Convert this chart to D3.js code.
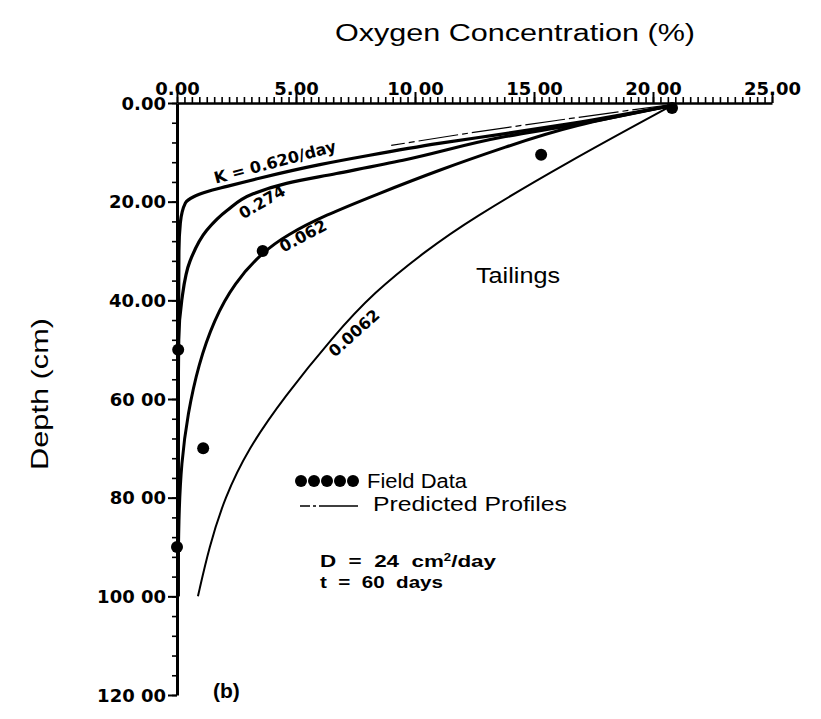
<!DOCTYPE html>
<html>
<head>
<meta charset="utf-8">
<script src="https://cdn.jsdelivr.net/npm/d3@7"></script>
<style>
  body { margin: 0; background: #fff; }
  text { font-family: "Liberation Sans", Arial, sans-serif; fill: #000; }
  .tick-label { font-family: "DejaVu Sans", sans-serif; font-weight: bold; font-size: 18px; }
  .pre { white-space: pre; }
</style>
</head>
<body>
<svg width="821" height="719"></svg>
<script>
// axis ticks
const X_TICKS = [0, 5, 10, 15, 20, 25];
const X_TICK_LABELS = ["0.00", "5.00", "10 00", "15 00", "20 00", "25.00"];
const Y_TICKS = [0, 20, 40, 60, 80, 100, 120];
const Y_TICK_LABELS = ["0.00", "20.00", "40.00", "60 00", "80 00", "100 00", "120 00"];

// field data (oxygen %, depth cm)
const FIELD_O2 = [20.8, 15.3, 3.6, 0.05, 1.1, 0.0];
const FIELD_DEPTH = [1, 10.5, 30, 50, 70, 90];

// predicted profiles, [oxygen %, depth cm]
const K_0620 = [[20.8, 0.5], [16.6, 4.1], [13.8, 6.2], [11.0, 8.2], [8.1, 10.6], [6.0, 12.5],
                [3.5, 15.2], [2.1, 16.9], [1.25, 18.0], [0.7, 19.0], [0.35, 20.3], [0.14, 24.3],
                [0.08, 30], [0.06, 50], [0.05, 100]];
const K_0274 = [[20.8, 0.5], [16.6, 4.5], [13.8, 6.8], [9.5, 11.6], [6.7, 14.3], [4.6, 16.3],
                [3.2, 18.4], [2.1, 21.8], [1.25, 25.8], [0.55, 32], [0.2, 40], [0.07, 48],
                [0.05, 60], [0.04, 100]];
const K_0062 = [[20.8, 0.5], [16.6, 4.5], [13.8, 8.9], [11.0, 13.6], [8.4, 18.5], [6.2, 22.8],
                [4.6, 26.8], [3.6, 30.2], [2.4, 36.5], [1.55, 44], [0.9, 53], [0.45, 63],
                [0.18, 73], [0.07, 84], [0.04, 100]];
const K_00062 = [[20.8, 0.5], [16.4, 12], [12.3, 23.7], [10.5, 29.8], [8.24, 38.5], [6.55, 47.4],
                 [4.5, 59.6], [3.0, 70], [2.0, 80], [1.35, 90], [0.88, 100]];
const THIN_TRACE = [[20.8, 0.3], [16.0, 3.5], [12.0, 6.3], [9.0, 8.6]];

const CURVE_LABELS = ["K = 0.620/day", "0.274", "0.062", "0.0062"];

let svg = d3.select("svg");

let x = d3.scaleLinear().domain([0, 25]).range([177, 772]);
let y = d3.scaleLinear().domain([0, 120]).range([103, 695]);

// x axis along the top
let xMinor = d3.range(0, 25.0001, 5 / 16);
svg.append("g")
  .attr("transform", "translate(0," + y(0) + ")")
  .call(d3.axisTop(x).tickValues(xMinor).tickSize(6).tickFormat(""))
  .call(g => g.select(".domain").remove())
  .selectAll("line").attr("stroke-width", 1.6);

let xAxis = svg.append("g")
  .attr("transform", "translate(0," + y(0) + ")")
  .call(d3.axisTop(x).tickValues(X_TICKS).tickSize(11).tickSizeOuter(0)
          .tickFormat((d, i) => X_TICK_LABELS[i]));
xAxis.select(".domain").attr("stroke-width", 2.5);
xAxis.selectAll("line").attr("stroke-width", 2);
xAxis.selectAll("text")
  .attr("class", "tick-label")
  .attr("y", -8)
  .attr("dy", 0);

// y axis on the left
let yMinor = d3.range(0, 120.0001, 4);
svg.append("g")
  .attr("transform", "translate(" + x(0) + ",0)")
  .call(d3.axisLeft(y).tickValues(yMinor).tickSize(5).tickFormat(""))
  .call(g => g.select(".domain").remove())
  .selectAll("line").attr("stroke-width", 1.6);

let yAxis = svg.append("g")
  .attr("transform", "translate(" + x(0) + ",0)")
  .call(d3.axisLeft(y).tickValues(Y_TICKS).tickSize(9).tickSizeOuter(0)
          .tickFormat((d, i) => Y_TICK_LABELS[i]));
yAxis.select(".domain").attr("stroke-width", 3);
yAxis.selectAll("line").attr("stroke-width", 2);
yAxis.selectAll("text")
  .attr("class", "tick-label")
  .attr("x", -11)
  .attr("dy", "0.35em");

// profiles
let sharpLine = d3.line()
  .x(d => x(d[0]))
  .y(d => y(d[1]))
  .curve(d3.curveMonotoneY);
let softLine = d3.line()
  .x(d => x(d[0]))
  .y(d => y(d[1]))
  .curve(d3.curveBasis);

let profiles = [
  {data: K_0620, w: 3.2, gen: sharpLine},
  {data: K_0274, w: 3.2, gen: sharpLine},
  {data: K_0062, w: 3, gen: softLine},
  {data: K_00062, w: 2, gen: softLine}
];
svg.append("g").selectAll("path")
  .data(profiles)
  .enter()
  .append("path")
  .attr("d", d => d.gen(d.data))
  .attr("fill", "none")
  .attr("stroke", "#000")
  .attr("stroke-width", d => d.w)
  .attr("stroke-linejoin", "round");

svg.append("path")
  .attr("d", sharpLine(THIN_TRACE))
  .attr("fill", "none")
  .attr("stroke", "#000")
  .attr("stroke-width", 1.2)
  .attr("stroke-dasharray", "40,4,6,4");

// field data
svg.append("g").selectAll("circle")
  .data(FIELD_O2)
  .enter()
  .append("circle")
  .attr("cx", d => x(d))
  .attr("cy", (d, i) => y(FIELD_DEPTH[i]))
  .attr("r", 6)
  .attr("fill", "#000");

// curve labels
let labelPos = [
  {x: 275, y: 162, rot: -15},
  {x: 262, y: 202, rot: -30},
  {x: 303, y: 236, rot: -28},
  {x: 354, y: 333, rot: -42}
];
svg.append("g").selectAll("text")
  .data(CURVE_LABELS)
  .enter()
  .append("text")
  .attr("transform", (d, i) => `translate(${labelPos[i].x},${labelPos[i].y}) rotate(${labelPos[i].rot})`)
  .attr("text-anchor", "middle")
  .attr("dy", "0.35em")
  .style("font-family", "'DejaVu Sans', sans-serif")
  .style("font-weight", "bold")
  .style("font-size", "16px")
  .text(d => d);

// titles
svg.append("text")
  .attr("x", 335).attr("y", 41)
  .attr("textLength", 360)
  .attr("lengthAdjust", "spacingAndGlyphs")
  .style("font-size", "23px")
  .text("Oxygen  Concentration  (%)");

svg.append("text")
  .attr("transform", "translate(48,394) rotate(-90)")
  .attr("text-anchor", "middle")
  .attr("textLength", 152)
  .attr("lengthAdjust", "spacingAndGlyphs")
  .style("font-size", "24px")
  .text("Depth  (cm)");

svg.append("text")
  .attr("x", 476).attr("y", 283)
  .attr("textLength", 84)
  .attr("lengthAdjust", "spacingAndGlyphs")
  .style("font-size", "22px")
  .text("Tailings");

// legend
svg.append("g").selectAll("circle")
  .data(d3.range(5))
  .enter()
  .append("circle")
  .attr("cx", d => 301 + d * 13)
  .attr("cy", 481)
  .attr("r", 6)
  .attr("fill", "#000");
svg.append("text").attr("x", 367).attr("y", 488)
  .attr("textLength", 100)
  .attr("lengthAdjust", "spacingAndGlyphs")
  .style("font-size", "20px").text("Field Data");
svg.append("line")
  .attr("x1", 300).attr("x2", 358).attr("y1", 506).attr("y2", 506)
  .attr("stroke", "#000").attr("stroke-width", 1.5)
  .attr("stroke-dasharray", "10,3,3,3,40");
svg.append("text").attr("x", 373).attr("y", 511)
  .attr("textLength", 194)
  .attr("lengthAdjust", "spacingAndGlyphs")
  .style("font-size", "20px").text("Predicted Profiles");

svg.append("text").attr("class", "pre").attr("x", 320).attr("y", 567)
  .attr("textLength", 176)
  .attr("lengthAdjust", "spacingAndGlyphs")
  .style("font-size", "17px").style("font-weight", "bold")
  .html("D  =  24  cm<tspan dy='-6' font-size='10px'>2</tspan><tspan dy='6'>/day</tspan>");
svg.append("text").attr("class", "pre").attr("x", 320).attr("y", 588)
  .attr("textLength", 123)
  .attr("lengthAdjust", "spacingAndGlyphs")
  .style("font-size", "17px").style("font-weight", "bold")
  .text("t  =  60  days");

svg.append("text").attr("x", 213).attr("y", 698)
  .style("font-size", "21px").style("font-weight", "bold")
  .text("(b)");
</script>
</body>
</html>
